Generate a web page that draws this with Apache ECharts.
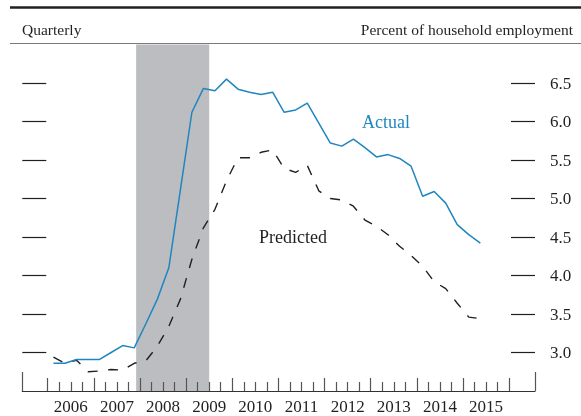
<!DOCTYPE html>
<html>
<head>
<meta charset="utf-8">
<script src="https://cdn.jsdelivr.net/npm/echarts@6/dist/echarts.min.js"></script>
<style>
  html, body { margin: 0; padding: 0; background: #fff; }
  #main { width: 581px; height: 416px; }
</style>
</head>
<body>
<div id="main"></div>
<script>
// quarters 2006Q1 .. 2015Q2
const startYear = 2006
const quarters = []
for (let i = 0; i < 38; i++) {
  quarters.push((startYear + Math.floor(i / 4)) + 'Q' + (i % 4 + 1))
}
const actual = [2.86, 2.86, 2.91, 2.91, 2.91, 3.00, 3.09, 3.06,
  3.37, 3.69, 4.10, 5.11, 6.12, 6.43, 6.40, 6.55,
  6.42, 6.38, 6.35, 6.38, 6.12, 6.15, 6.24, 5.98,
  5.72, 5.68, 5.77, 5.66, 5.54, 5.57, 5.52, 5.42,
  5.03, 5.09, 4.94, 4.66, 4.53, 4.42]
const predicted = [2.94, 2.86, 2.90, 2.75, 2.76, 2.78, 2.77, 2.86,
  2.89, 3.08, 3.34, 3.69, 4.21, 4.62, 4.86, 5.23,
  5.53, 5.53, 5.60, 5.63, 5.39, 5.34, 5.43, 5.10,
  5.00, 4.98, 4.90, 4.72, 4.64, 4.53, 4.38, 4.26,
  4.12, 3.92, 3.83, 3.64, 3.46, 3.44]
const years = [2006, 2007, 2008, 2009, 2010, 2011, 2012, 2013, 2014, 2015]
const yTicks = [3.0, 3.5, 4.0, 4.5, 5.0, 5.5, 6.0, 6.5]
const recession = [2007.917, 2009.5]  // Dec 2007 - Jun 2009

// quarter label -> position on the year axis (middle of the quarter)
function qx(q) {
  return parseInt(q.substr(0, 4)) + (parseInt(q.substr(5)) - 0.5) / 4
}

const xMin = 2005.45, xMax = 2016.56
const majorTicks = years.concat([2016])
const minorTicks = []
years.forEach(function (y) { minorTicks.push(y + 0.25, y + 0.5, y + 0.75) })
const labelPos = years.map(function (y) { return y + 0.5 })

const serif = 'Liberation Serif'
const ink = '#231f20'
const blue = '#1f86c0'

const myChart = echarts.init(document.getElementById('main'))

function xAx(ticks, len, showLine, showLabel) {
  return {
    type: 'value', min: xMin, max: xMax, position: 'bottom', z: 5,
    splitLine: {show: false},
    axisLine: {show: showLine, onZero: false, lineStyle: {color: '#333', width: 1.2}},
    axisTick: {show: true, inside: true, length: len, customValues: ticks,
      lineStyle: {color: '#555', width: 1.2}},
    axisLabel: showLabel ? {
      show: true, customValues: labelPos, margin: 8,
      fontFamily: serif, fontSize: 17, color: ink,
      formatter: function (v) { return Math.floor(v) }
    } : {show: false}
  }
}

const option = {
  animation: false,
  grid: {left: 22.3, right: 46, top: 44.5, bottom: 24.5},
  graphic: [
    {type: 'line', shape: {x1: 10, y1: 7.5, x2: 581, y2: 7.5}, style: {stroke: ink, lineWidth: 2.5}},
    {type: 'line', shape: {x1: 10, y1: 43.5, x2: 581, y2: 43.5}, style: {stroke: '#7a7a7a', lineWidth: 1.2}},
    {type: 'text', left: 22, top: 23, style: {text: 'Quarterly', fontFamily: serif, fontSize: 15.5, fill: ink}},
    {type: 'text', right: 8, top: 23, style: {text: 'Percent of household employment', fontFamily: serif, fontSize: 15.5, fill: ink}},
    {type: 'text', left: 362, top: 114, z: 10, style: {text: 'Actual', fontFamily: serif, fontSize: 18, fill: blue}},
    {type: 'text', left: 259, top: 229, z: 10, style: {text: 'Predicted', fontFamily: serif, fontSize: 18, fill: ink}}
  ],
  xAxis: [
    xAx(majorTicks, 13, true, true),
    xAx(minorTicks, 9, false, false),
    xAx([xMin, xMax], 19, false, false)
  ],
  yAxis: [
    {
      type: 'value', min: 2.5, max: 7.0, interval: 0.5, position: 'right',
      splitLine: {show: false},
      axisLine: {show: false},
      axisTick: {show: true, inside: true, length: 24, customValues: yTicks,
        lineStyle: {color: ink, width: 1.2}},
      axisLabel: {
        show: true, customValues: yTicks, margin: 15, verticalAlign: 'top', padding: [-7, 0, 0, 0],
        fontFamily: serif, fontSize: 17, color: ink,
        formatter: function (v) { return v.toFixed(1) }
      }
    },
    {
      type: 'value', min: 2.5, max: 7.0, interval: 0.5, position: 'left',
      splitLine: {show: false},
      axisLine: {show: false},
      axisTick: {show: true, inside: true, length: 24, customValues: yTicks,
        lineStyle: {color: ink, width: 1.2}},
      axisLabel: {show: false}
    }
  ],
  series: [
    {
      name: 'Recession', type: 'line', data: [], z: 1,
      markArea: {
        silent: true,
        itemStyle: {color: '#bcbdc1', opacity: 1},
        data: [[{xAxis: recession[0]}, {xAxis: recession[1]}]]
      }
    },
    {
      name: 'Predicted', type: 'line', z: 3,
      data: quarters.map(function (q, i) { return [qx(q), predicted[i]] }),
      symbol: 'none',
      lineStyle: {color: ink, width: 1.4, type: [10, 10.5]}
    },
    {
      name: 'Actual', type: 'line', z: 4,
      data: quarters.map(function (q, i) { return [qx(q), actual[i]] }),
      symbol: 'none',
      lineStyle: {color: blue, width: 1.5}
    }
  ]
}
myChart.setOption(option)
</script>
</body>
</html>
